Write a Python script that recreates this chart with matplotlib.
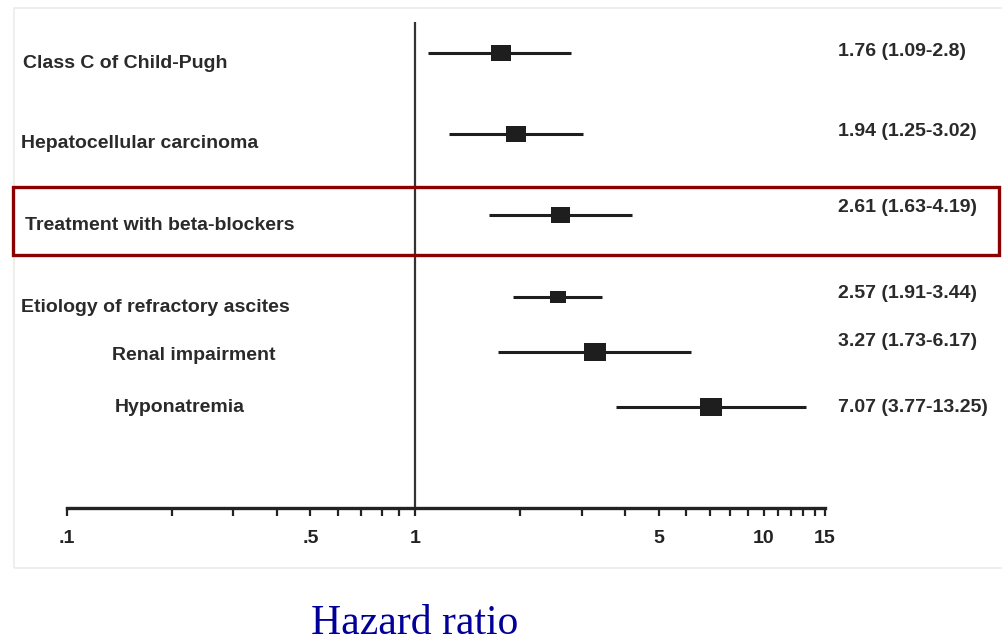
import numpy as np
import matplotlib.pyplot as plt
from matplotlib.patches import Rectangle

labels = ["Class C of Child-Pugh", "Hepatocellular carcinoma", "Treatment with beta-blockers",
          "Etiology of refractory ascites", "Renal impairment", "Hyponatremia"]
hr = [1.76, 1.94, 2.61, 2.57, 3.27, 7.07]
ci_low = [1.09, 1.25, 1.63, 1.91, 1.73, 3.77]
ci_high = [2.8, 3.02, 4.19, 3.44, 6.17, 13.25]
value_text = ["1.76 (1.09-2.8)", "1.94 (1.25-3.02)", "2.61 (1.63-4.19)",
              "2.57 (1.91-3.44)", "3.27 (1.73-6.17)", "7.07 (3.77-13.25)"]
tick_vals = [0.1, 0.5, 1, 5, 10, 15]
tick_labels = [".1", ".5", "1", "5", "10", "15"]
minor_vals = [0.2, 0.3, 0.4, 0.6, 0.7, 0.8, 0.9, 2, 3, 4, 6, 7, 8, 9, 11, 12, 13, 14]

# layout (pixel rows from top of image)
row_y = [53, 134, 215, 297, 352, 407]
label_x = [23, 21, 25, 21, 112, 115]
label_y = [64, 144, 225, 307, 355, 407]
text_y = [52, 132, 208, 294, 341, 407]
box_w = [20, 20, 19, 16, 23, 22]

W, H = 1003, 642
fam = "Liberation Sans"
fs = 14
ink = "#1e1e1e"

fig = plt.figure(figsize=(W / 100, H / 100), dpi=100)
fig.patch.set_facecolor("white")


def fx(x):
    return x / W


def fy(y):
    return 1 - y / H


ax = fig.add_axes([fx(67), fy(508), fx(825) - fx(67), fy(22) - fy(508)])
ax.set_xscale("log")
ax.set_xlim(0.1, 15)
ax.set_ylim(508, 22)
for s in ["top", "right", "left"]:
    ax.spines[s].set_visible(False)
ax.spines["bottom"].set_linewidth(2.4)
ax.spines["bottom"].set_color("#222222")
ax.set_yticks([])
ax.set_xticks(tick_vals)
ax.set_xticklabels(tick_labels, fontfamily=fam, fontweight="bold", fontsize=fs, color="#222222")
ax.set_xticks(minor_vals, minor=True)
ax.xaxis.set_minor_formatter(plt.NullFormatter())
ax.tick_params(axis="x", which="both", direction="out", length=6, width=1.6, color="#222222", pad=10)
ax.patch.set_alpha(0)

ax.axvline(1, color="#333333", lw=1.6)

# slightly wide rectangular box marker
box = [(-1, -0.8), (1, -0.8), (1, 0.8), (-1, 0.8), (-1, -0.8)]

for i in range(len(hr)):
    ax.plot([ci_low[i], ci_high[i]], [row_y[i], row_y[i]], color=ink, lw=2.2, solid_capstyle="butt")
    ax.plot(hr[i], row_y[i], marker=box, markersize=box_w[i] * 0.72, color=ink, markeredgewidth=0)
    fig.text(fx(label_x[i]), fy(label_y[i]), labels[i], fontfamily=fam, fontweight="bold",
             fontsize=fs, color="#2a2a2a", va="center", ha="left")
    fig.text(fx(838), fy(text_y[i]), value_text[i], fontfamily=fam, fontweight="bold",
             fontsize=fs, color="#2a2a2a", va="center", ha="left")

# outer light frame
fig.patches.append(Rectangle((fx(14), fy(568)), fx(1010) - fx(14), fy(8) - fy(568),
                             transform=fig.transFigure, fill=False, edgecolor="#ebebe6", lw=1.2))
# highlight box
fig.patches.append(Rectangle((fx(13), fy(255)), fx(999) - fx(13), fy(187) - fy(255),
                             transform=fig.transFigure, fill=False, edgecolor="#8b0000", lw=2.4))

fig.text(fx(415), fy(624), "Hazard ratio", fontfamily="Liberation Serif", fontsize=30,
         color="#000099", ha="center", va="center")

fig.savefig("out.png", dpi=100)
